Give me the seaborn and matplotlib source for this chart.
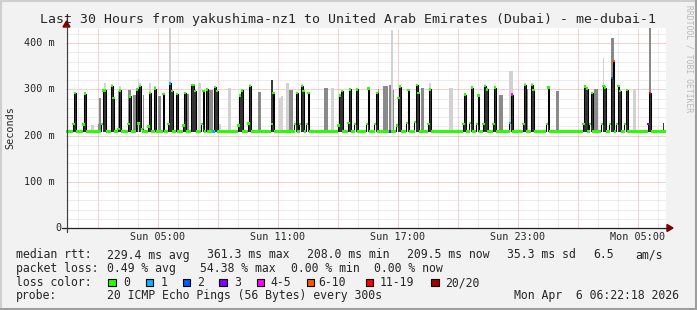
import matplotlib
matplotlib.use("Agg")
import matplotlib.pyplot as plt
import seaborn as sns
import pandas as pd
from matplotlib.patches import Polygon, Rectangle
from matplotlib.lines import Line2D

W, H = 697, 310

# ---------------- data ----------------
# median RTT (ms) per 5-minute step, 360 steps = 30 hours, starting Sun 00:24
median_ms = [
    209, 209, 209, 209, 225, 293, 209, 209, 209, 209, 224, 291, 209, 209, 209, 209, 209, 209, 209, 209, 209, 225, 298, 298,
    209, 209, 209, 308, 281, 209, 209, 215, 298, 209, 209, 209, 209, 225, 285, 209, 209, 209, 300, 226, 308, 215, 209, 209,
    209, 220, 292, 209, 209, 302, 209, 209, 209, 209, 290, 209, 209, 225, 313, 297, 209, 209, 290, 209, 209, 209, 222, 293,
    209, 209, 209, 310, 310, 296, 209, 209, 209, 225, 297, 209, 300, 209, 209, 209, 209, 305, 297, 209, 209, 209, 209, 209,
    209, 209, 209, 209, 209, 209, 209, 222, 287, 298, 209, 209, 209, 226, 308, 209, 209, 209, 209, 209, 209, 209, 209, 209,
    209, 209, 209, 225, 292, 209, 209, 209, 209, 209, 209, 209, 209, 209, 209, 209, 209, 225, 293, 209, 225, 308, 297, 209,
    225, 293, 209, 209, 209, 209, 209, 209, 209, 209, 209, 209, 209, 209, 209, 209, 209, 209, 209, 222, 287, 297, 209, 209,
    209, 228, 300, 209, 209, 225, 300, 209, 209, 209, 209, 209, 225, 302, 209, 209, 209, 225, 293, 209, 209, 209, 209, 209,
    209, 209, 209, 209, 209, 209, 222, 281, 306, 209, 209, 209, 228, 299, 209, 209, 209, 230, 309, 292, 209, 209, 209, 209,
    209, 225, 300, 209, 209, 209, 209, 209, 209, 209, 209, 209, 209, 209, 209, 209, 209, 209, 209, 209, 209, 209, 225, 289,
    209, 209, 228, 304, 209, 209, 225, 287, 209, 209, 225, 307, 300, 209, 209, 209, 225, 304, 209, 209, 209, 209, 209, 209,
    209, 209, 228, 289, 209, 209, 209, 209, 209, 209, 225, 309, 209, 209, 209, 310, 299, 209, 209, 209, 209, 209, 209, 209,
    225, 304, 209, 209, 209, 209, 209, 209, 209, 209, 209, 209, 209, 209, 209, 209, 209, 209, 209, 209, 209, 209, 225, 306,
    302, 209, 225, 293, 209, 209, 209, 209, 209, 225, 308, 304, 209, 209, 225, 325, 361, 209, 225, 308, 297, 209, 209, 225,
    299, 209, 209, 209, 209, 209, 209, 209, 209, 209, 209, 209, 209, 225, 293, 209, 209, 209, 209, 209, 209, 209, 209, 209,
]

# smoke (spread of the 20 pings) tops, by shade
smoke_light_step = [15, 16, 23, 27, 32, 43, 44, 50, 53, 62, 79, 80, 91, 92, 97, 98, 110, 128, 129, 132, 133,
                    141, 159, 160, 181, 195, 210, 218, 230, 231, 251, 266, 267, 275, 279, 311, 322, 340, 341]
smoke_light_top = [222, 222, 314, 312, 308, 322, 315, 313, 308, 437, 314, 314, 225, 225, 304, 304, 312, 281, 286, 313, 313,
                   312, 304, 304, 306, 428, 312, 315, 304, 304, 312, 339, 339, 313, 314, 310, 368, 300, 300]
smoke_mid_step = [19, 20, 31, 37, 38, 40, 41, 46, 55, 56, 72, 73, 86, 87, 115, 116, 134, 135, 155, 156,
                  187, 190, 191, 192, 194, 196, 213, 214, 260, 261, 276, 294, 295, 317, 318, 327, 328, 350]
smoke_mid_top = [225, 281, 297, 298, 298, 288, 288, 289, 285, 285, 290, 290, 298, 298, 295, 295, 298, 298, 304, 304,
                 300, 308, 308, 308, 309, 298, 304, 304, 289, 289, 300, 297, 297, 300, 300, 412, 412, 432]
smoke_dark_step = [123, 358]
smoke_dark_top = [320, 228]
smoke_floor = 207

# packet loss class per step (only non-zero ones listed)
loss_step = [62, 88, 194, 266, 267, 327, 328, 349, 350]
loss_class = [1, 1, 3, 1, 4, 2, 5, 3, 6]
loss_labels = ["0", "1", "2", "3", "4-5", "6-10", "11-19", "20/20"]
loss_colors = ["#26ff00", "#00b8ff", "#0059ff", "#7e00ff", "#ff00ff", "#ff5500", "#ff0000", "#a10000"]

x_tick_hours = [4.6, 10.6, 16.6, 22.6, 28.6]
x_tick_labels = ["Sun 05:00", "Sun 11:00", "Sun 17:00", "Sun 23:00", "Mon 05:00"]
y_tick_values = [0, 100, 200, 300, 400]
y_tick_labels = ["0", "100 m", "200 m", "300 m", "400 m"]

title = "Last 30 Hours from yakushima-nz1 to United Arab Emirates (Dubai) - me-dubai-1"
STEP_H = 5 / 60.0

# ---------------- figure ----------------
sns.set_theme(style="white")
plt.rcParams["font.family"] = ["DejaVu Sans Mono"]
BG = "#f2f2f2"
fig = plt.figure(figsize=(W / 100, H / 100), dpi=100, facecolor=BG)


def fx(x):
    return x / W


def fy(y):
    return 1 - y / H


ax = fig.add_axes([fx(66), fy(228), 600 / W, 200 / H])
ax.set_facecolor("white")
ax.set_xlim(0, 30)
ax.set_ylim(0, 433)

# grid
for h in range(30):
    hv = h + 0.6
    major = (h % 3) == 1
    ax.axvline(hv, color="#f2a0a0" if major else "#dadada", lw=0.72,
               ls=(0, (1, 1)), zorder=0)
for v in range(20, 433, 20):
    major = v % 100 == 0
    ax.axhline(v, color="#f2a0a0" if major else "#dadada", lw=0.72,
               ls=(0, (1, 1)), zorder=0)

n = len(median_ms)
loss = ["0"] * n
for s, c in zip(loss_step, loss_class):
    loss[s] = loss_labels[c]
df = pd.DataFrame({
    "hour": [(i + 0.5) * STEP_H for i in range(n)],
    "median": median_ms,
    "loss": loss,
})


def smoke(steps, tops, color, z):
    xs = [(s + 0.5) * STEP_H for s in steps]
    hs = [t - smoke_floor for t in tops]
    ax.bar(xs, hs, bottom=smoke_floor, width=STEP_H, color=color, linewidth=0, zorder=z)


smoke(smoke_light_step, smoke_light_top, "#d2d2d2", 1)
smoke(smoke_mid_step, smoke_mid_top, "#8a8a8a", 2)
smoke(smoke_dark_step, smoke_dark_top, "#3a3a3a", 2.5)
hi = df[df["median"] > 240]
ax.bar(hi["hour"], hi["median"] - smoke_floor, bottom=smoke_floor, width=STEP_H,
       color="#333333", linewidth=0, zorder=3)

# median line + loss colour dots
sns.lineplot(data=df, x="hour", y="median", drawstyle="steps-mid", color="black",
             lw=0.75, estimator=None, ax=ax, zorder=4)
sns.scatterplot(data=df, x="hour", y="median", hue="loss",
                palette=dict(zip(loss_labels, loss_colors)), marker="s", s=2.8,
                linewidth=0, legend=False, ax=ax, zorder=5)

ax.set_xlabel("")
ax.set_ylabel("")
ax.set_xticks([])
ax.set_yticks([])
for sp in ax.spines.values():
    sp.set_visible(False)

# axes lines and arrows
fig.add_artist(Line2D([fx(62), fx(668)], [fy(228), fy(228)], color="#202020", lw=0.9))
fig.add_artist(Line2D([fx(66.5), fx(66.5)], [fy(232), fy(26)], color="#404040", lw=0.9))
fig.add_artist(Polygon([(fx(667), fy(224.5)), (fx(667), fy(231.5)), (fx(673), fy(228))],
                       closed=True, color="#7f0000", transform=fig.transFigure))
fig.add_artist(Polygon([(fx(63), fy(27)), (fx(70), fy(27)), (fx(66.5), fy(21))],
                       closed=True, color="#7f0000", transform=fig.transFigure))

# tick labels
for h, lab in zip(x_tick_hours, x_tick_labels):
    fig.text(fx(66 + h * 20), fy(237.5), lab, ha="center", va="center", fontsize=7.3)
for v, lab in zip(y_tick_values, y_tick_labels):
    xr = 61 if v == 0 else 55
    fig.text(fx(xr), fy(228 - v * 0.462), lab, ha="right", va="center", fontsize=7.3)

fig.text(fx(10), fy(128), "Seconds", rotation=90, ha="center", va="center", fontsize=7.3)
fig.text(0.5, fy(22.5), title, ha="center", va="baseline", fontsize=9.5)
fig.text(fx(689), fy(5), "RRDTOOL / TOBI OETIKER", rotation=-90, ha="center", va="top",
         fontsize=5.8, color="#b8b8b8")

# legend block
LF = 8.3
rows = [
    (258.5, [(16, "median rtt:"), (107, "229.4 ms avg"), (207, "361.3 ms max"), (307, "208.0 ms min"),
             (407, "209.5 ms now"), (507, "35.3 ms sd"), (593, "6.5"), (635, "am/s")]),
    (272, [(16, "packet loss:"), (107, "0.49 % avg"), (200, "54.38 % max"), (291, "0.00 % min"),
           (374, "0.00 % now")]),
    (286, [(16, "loss color:")]),
    (299.5, [(16, "probe:"), (107, "20 ICMP Echo Pings (56 Bytes) every 300s")]),
]
for yb, items in rows:
    for x, s in items:
        fig.text(fx(x), fy(yb), s, ha="left", va="baseline", fontsize=LF)
fig.text(fx(679), fy(299.5), "Mon Apr  6 06:22:18 2026", ha="right", va="baseline", fontsize=LF)

box_x = [108.3, 145.7, 182.7, 219.3, 256.7, 306.7, 365.7, 431]
lab_x = [123.3, 160.7, 197.3, 234, 270.7, 318, 380, 445]
for bx, lx, lab, col in zip(box_x, lab_x, loss_labels, loss_colors):
    fig.add_artist(Rectangle((fx(bx), fy(286)), 7.5 / W, 7.5 / H, facecolor=col,
                             edgecolor="black", lw=0.8, transform=fig.transFigure))
    fig.text(fx(lx), fy(286), lab, ha="left", va="baseline", fontsize=LF)

# frame shading
fig.add_artist(Line2D([0, 1], [fy(1), fy(1)], color="#cfcfcf", lw=1.5))
fig.add_artist(Line2D([fx(1), fx(1)], [0, 1], color="#cfcfcf", lw=1.5))
fig.add_artist(Line2D([0, 1], [fy(308.5), fy(308.5)], color="#9e9e9e", lw=2.2))
fig.add_artist(Line2D([fx(695.5), fx(695.5)], [0, 1], color="#9e9e9e", lw=2.2))

fig.savefig("out.png", dpi=100, facecolor=BG)
